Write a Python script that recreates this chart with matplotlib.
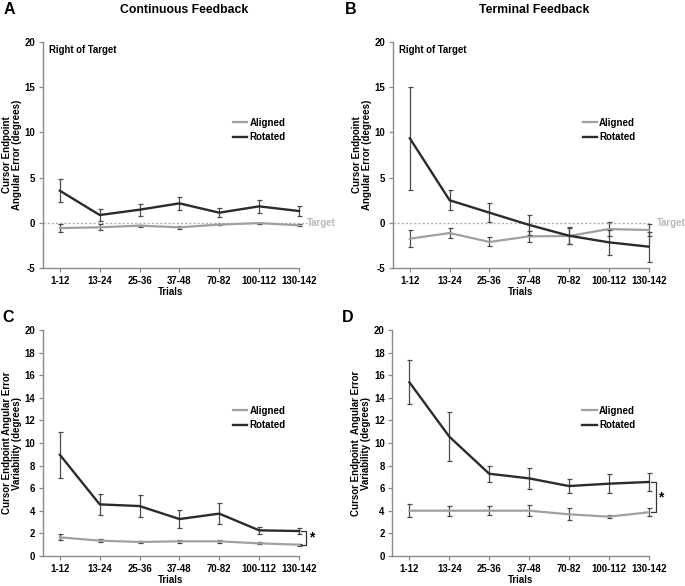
import matplotlib
matplotlib.use("Agg")
import matplotlib.pyplot as plt
import matplotlib.transforms as mtransforms
from matplotlib.lines import Line2D
import numpy as np

plt.rcParams['font.family'] = ['Liberation Sans', 'DejaVu Sans']
plt.rcParams['font.weight'] = 'bold'

trials = ["1-12", "13-24", "25-36", "37-48", "70-82", "100-112", "130-142"]

# Panel A: Continuous feedback, angular error
a_aligned = [-0.58, -0.5, -0.32, -0.5, -0.2, -0.03, -0.28]
a_aligned_err = [0.4, 0.35, 0.12, 0.15, 0.08, 0.05, 0.1]
a_rotated = [3.55, 0.86, 1.45, 2.15, 1.12, 1.82, 1.3]
a_rotated_err = [1.27, 0.67, 0.67, 0.68, 0.48, 0.72, 0.55]

# Panel B: Terminal feedback, angular error
b_aligned = [-1.76, -1.13, -2.12, -1.5, -1.46, -0.69, -0.8]
b_aligned_err = [0.94, 0.6, 0.5, 0.6, 0.9, 0.75, 0.7]
b_rotated = [9.35, 2.49, 1.12, -0.24, -1.43, -2.16, -2.64]
b_rotated_err = [5.7, 1.1, 1.05, 1.06, 0.95, 1.37, 1.65]

# Panel C: Continuous feedback, variability
c_aligned = [1.65, 1.36, 1.24, 1.3, 1.3, 1.12, 1.0]
c_aligned_err = [0.27, 0.15, 0.12, 0.12, 0.12, 0.08, 0.08]
c_rotated = [8.96, 4.57, 4.42, 3.27, 3.75, 2.27, 2.21]
c_rotated_err = [2.05, 0.9, 1.0, 0.82, 0.92, 0.3, 0.3]

# Panel D: Terminal feedback, variability
d_aligned = [4.01, 4.01, 4.01, 4.01, 3.69, 3.48, 3.87]
d_aligned_err = [0.57, 0.45, 0.4, 0.47, 0.52, 0.12, 0.37]
d_rotated = [15.37, 10.56, 7.28, 6.87, 6.19, 6.4, 6.55]
d_rotated_err = [1.95, 2.15, 0.7, 0.95, 0.58, 0.85, 0.78]

W, H = 685, 586
fig = plt.figure(figsize=(W / 100, H / 100), dpi=100)

def ax_rect(x0, x1, ytop, ybot):
    return [x0 / W, 1 - ybot / H, (x1 - x0) / W, (ybot - ytop) / H]

axA = fig.add_axes(ax_rect(42.7, 299, 42, 268))
axB = fig.add_axes(ax_rect(392.7, 648.7, 42, 268))
axC = fig.add_axes(ax_rect(42.7, 299, 330, 556))
axD = fig.add_axes(ax_rect(392.3, 648.7, 330, 556))

ROT_C = '#2b2b2b'
ALI_C = '#a0a0a0'
ERR_C = '#4a4a4a'
SPINE_C = '#8a8a8a'
FS = 6.9

def setup(ax, aligned, ali_err, rotated, rot_err, ylim, yticks, ylabel):
    x = np.arange(len(trials))
    for vals, errs, col, lw, z in ((aligned, ali_err, ALI_C, 1.6, 3), (rotated, rot_err, ROT_C, 1.7, 4)):
        cont = ax.errorbar(x, vals, yerr=errs, color=col, lw=lw, ecolor=ERR_C,
                           elinewidth=0.9, capsize=1.8, capthick=0.9, zorder=z)
        for art in cont.get_children():
            art.set_clip_on(False)
    ax.set_xlim(-0.43, 6)
    ax.set_ylim(*ylim)
    ax.set_yticks(yticks)
    ax.set_xticks(x)
    ax.set_xticklabels(trials, fontsize=FS, fontweight='bold')
    ax.set_yticklabels([str(t) for t in yticks], fontsize=FS, fontweight='bold')
    for s in ['top', 'right']:
        ax.spines[s].set_visible(False)
    for s in ['left', 'bottom']:
        ax.spines[s].set_color(SPINE_C)
        ax.spines[s].set_linewidth(1.0)
    ax.tick_params(axis='both', colors=SPINE_C, labelcolor='black', length=3, width=0.9, pad=2.5)
    ax.set_xlabel('Trials', fontsize=FS, fontweight='bold', labelpad=1.2)
    ax.set_ylabel(ylabel, fontsize=FS + 0.1, fontweight='bold', labelpad=2, linespacing=1.0)
    handles = [Line2D([], [], color=ALI_C, lw=1.6), Line2D([], [], color=ROT_C, lw=1.7)]
    ax.legend(handles, ['Aligned', 'Rotated'], loc='upper left', bbox_to_anchor=(0.715, 0.695),
              frameon=False, prop={'size': FS + 0.1, 'weight': 'bold'}, handlelength=1.5,
              handletextpad=0.2, labelspacing=0.45, borderpad=0.2)

setup(axA, a_aligned, a_aligned_err, a_rotated, a_rotated_err, (-5, 20), [-5, 0, 5, 10, 15, 20],
      'Cursor Endpoint\nAngular Error (degrees)')
setup(axB, b_aligned, b_aligned_err, b_rotated, b_rotated_err, (-5, 20), [-5, 0, 5, 10, 15, 20],
      'Cursor Endpoint\nAngular Error (degrees)')
setup(axC, c_aligned, c_aligned_err, c_rotated, c_rotated_err, (0, 20), list(range(0, 21, 2)),
      'Cursor Endpoint Angular Error\nVariability (degrees)')
setup(axD, d_aligned, d_aligned_err, d_rotated, d_rotated_err, (0, 20), list(range(0, 21, 2)),
      'Cursor Endpoint  Angular Error\nVariability (degrees)')

# Target line and labels
for ax, xend in ((axA, 1.03), (axB, 1.0)):
    tr = mtransforms.blended_transform_factory(ax.transAxes, ax.transData)
    ax.plot([0, xend], [0, 0], transform=tr, color='#b0b0b0', lw=1.0, ls=(0, (1.5, 1.5)),
            clip_on=False, zorder=1)
    ax.text(1.03, 0, 'Target', transform=tr, color='#b8b8b8', fontsize=FS,
            fontweight='bold', va='center', ha='left')
    ax.text(0.025, 0.965, 'Right of Target', transform=ax.transAxes, fontsize=FS,
            fontweight='bold', va='center', ha='left')

# Significance brackets
for ax, rot, ali in ((axC, c_rotated, c_aligned), (axD, d_rotated, d_aligned)):
    tr = mtransforms.blended_transform_factory(ax.transAxes, ax.transData)
    xb = 1.027
    ax.plot([xb - 0.018, xb, xb, xb - 0.018], [rot[-1], rot[-1], ali[-1], ali[-1]],
            transform=tr, color='#333333', lw=0.9, clip_on=False)
    ax.text(xb + 0.015, (rot[-1] + ali[-1]) / 2, '*', transform=tr, fontsize=FS + 3,
            fontweight='bold', va='center', ha='left')

# Titles and panel letters
fig.text(184 / W, 1 - 10 / H, 'Continuous Feedback', fontsize=8.8, fontweight='bold',
         ha='center', va='center')
fig.text(534 / W, 1 - 10 / H, 'Terminal Feedback', fontsize=8.8, fontweight='bold',
         ha='center', va='center')
fig.text(4 / W, 1 - 10 / H, 'A', fontsize=11.5, fontweight='bold', ha='left', va='center')
fig.text(345 / W, 1 - 10 / H, 'B', fontsize=11.5, fontweight='bold', ha='left', va='center')
fig.text(2 / W, 1 - 318 / H, 'C', fontsize=11.5, fontweight='bold', ha='left', va='center')
fig.text(342 / W, 1 - 318 / H, 'D', fontsize=11.5, fontweight='bold', ha='left', va='center')

fig.savefig('out.png', dpi=100)
